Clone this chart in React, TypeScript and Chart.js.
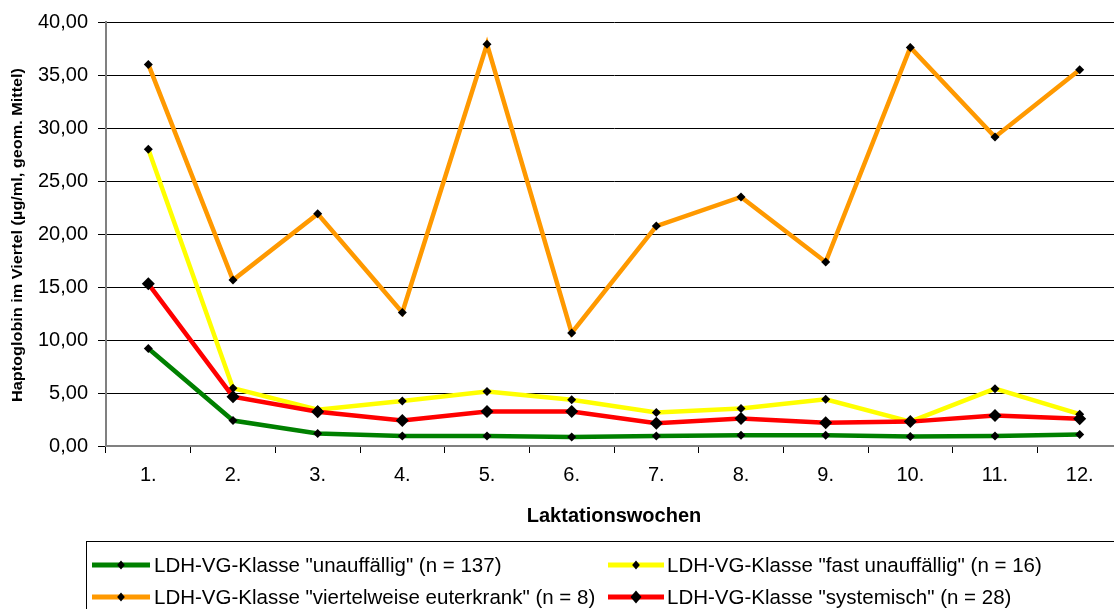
import React, { useEffect, useRef } from "react";
import { Chart, registerables } from "chart.js";

Chart.register(...registerables);

const weeks = ["1.", "2.", "3.", "4.", "5.", "6.", "7.", "8.", "9.", "10.", "11.", "12."];
const unauffaellig = [9.2, 2.4, 1.17, 0.95, 0.95, 0.84, 0.95, 1.01, 1.01, 0.89, 0.95, 1.08];
const fastUnauffaellig = [28.0, 5.45, 3.42, 4.24, 5.13, 4.37, 3.16, 3.54, 4.4, 2.3, 5.41, 3.0];
const viertelweise = [36.0, 15.66, 21.9, 12.6, 37.9, 10.66, 20.75, 23.5, 17.36, 37.6, 29.15, 35.5];
const systemisch = [15.3, 4.65, 3.23, 2.4, 3.26, 3.26, 2.15, 2.6, 2.2, 2.3, 2.88, 2.56];
const seriesLabels = [
  'LDH-VG-Klasse "unauffällig" (n = 137)',
  'LDH-VG-Klasse "fast unauffällig" (n = 16)',
  'LDH-VG-Klasse "viertelweise euterkrank" (n = 8)',
  'LDH-VG-Klasse "systemisch" (n = 28)',
];
const seriesColors = ["#008000", "#FFFF00", "#FF9900", "#FF0000"];
const yTitle = "Haptoglobin im Viertel (µg/ml, geom. Mittel)";
const xTitle = "Laktationswochen";

const FONT = "Arial, 'Liberation Sans', sans-serif";

const yTitlePlugin = {
  id: "yTitleStretched",
  afterDraw(chart: any) {
    const ctx = chart.ctx;
    ctx.save();
    ctx.font = "bold 14px " + FONT;
    const w = ctx.measureText(yTitle).width;
    ctx.translate(18, 235);
    ctx.rotate(-Math.PI / 2);
    ctx.scale(334 / w, 1);
    ctx.fillStyle = "#000";
    ctx.textAlign = "center";
    ctx.textBaseline = "middle";
    ctx.fillText(yTitle, 0, 0);
    ctx.restore();
  },
};

const boxLegend = {
  id: "boxLegend",
  afterDraw(chart: any) {
    const ctx = chart.ctx;
    ctx.save();
    ctx.strokeStyle = "#000";
    ctx.lineWidth = 1;
    ctx.strokeRect(86.5, 541.5, 1100, 90);
    const cols = [
      { line0: 92, line1: 150, mark: 121, text: 154 },
      { line0: 608, line1: 664, mark: 636, text: 667 },
    ];
    const rows = [565, 597];
    ctx.font = "20.5px " + FONT;
    ctx.textBaseline = "middle";
    ctx.textAlign = "left";
    chart.data.datasets.forEach((ds: any, i: number) => {
      const c = cols[i % 2];
      const y = rows[Math.floor(i / 2)];
      ctx.strokeStyle = ds.borderColor;
      ctx.lineWidth = 5;
      ctx.beginPath();
      ctx.moveTo(c.line0, y);
      ctx.lineTo(c.line1, y);
      ctx.stroke();
      const r = ds.pointRadius;
      ctx.fillStyle = "#000";
      ctx.beginPath();
      ctx.moveTo(c.mark, y - r);
      ctx.lineTo(c.mark + r * 0.85, y);
      ctx.lineTo(c.mark, y + r);
      ctx.lineTo(c.mark - r * 0.85, y);
      ctx.closePath();
      ctx.fill();
      ctx.fillStyle = "#000";
      ctx.fillText(ds.label, c.text, y + 1);
    });
    ctx.restore();
  },
};

export default function App() {
  const ref = useRef<HTMLCanvasElement>(null);
  useEffect(() => {
    document.body.style.margin = "0";
    document.body.style.overflow = "hidden";
    const values = [unauffaellig, fastUnauffaellig, viertelweise, systemisch];
    const orders = [3, 1, 2, 0];
    const radii = [4.5, 4.5, 4.5, 6.5];
    const chart = new Chart(ref.current!, {
      type: "line",
      data: {
        labels: weeks,
        datasets: values.map((v, i) => ({
          label: seriesLabels[i],
          data: v,
          borderColor: seriesColors[i],
          backgroundColor: seriesColors[i],
          borderWidth: 4.5,
          pointStyle: "rectRot",
          pointRadius: radii[i],
          pointBackgroundColor: "#000",
          pointBorderColor: "#000",
          pointBorderWidth: 0,
          tension: 0,
          order: orders[i],
        })),
      },
      options: {
        animation: false,
        responsive: true,
        maintainAspectRatio: false,
        layout: { padding: { left: 0, right: 8, top: 22, bottom: 68 } },
        plugins: {
          legend: { display: false },
          tooltip: { enabled: false },
        },
        scales: {
          x: {
            offset: true,
            grid: {
              offset: true,
              drawOnChartArea: false,
              drawTicks: true,
              tickLength: 7,
              color: "#000",
            },
            border: { color: "#808080", width: 2 },
            ticks: {
              color: "#000",
              font: { family: FONT, size: 20 },
              padding: 10,
              maxRotation: 0,
            },
            title: {
              display: true,
              text: xTitle,
              color: "#000",
              font: { family: FONT, size: 20, weight: "bold" },
              padding: { top: 0, bottom: 13 },
            },
            afterFit: (s: any) => {
              s.height = 95;
            },
          },
          y: {
            min: 0,
            max: 40,
            ticks: {
              stepSize: 5,
              color: "#000",
              font: { family: FONT, size: 20 },
              padding: 10,
              callback: (v: any) => Number(v).toFixed(2).replace(".", ","),
            },
            grid: {
              color: "#000",
              lineWidth: 1,
              tickLength: 8,
              drawTicks: true,
            },
            border: { color: "#808080", width: 2 },
            title: { display: false },
            afterFit: (s: any) => {
              s.width = 106;
            },
          },
        },
      },
      plugins: [boxLegend, yTitlePlugin],
    });
    return () => chart.destroy();
  }, []);
  return (
    <div style={{ position: "fixed", left: 0, top: 0, width: 1114, height: 609, overflow: "hidden", background: "#fff" }}>
      <div style={{ position: "absolute", left: 0, top: 0, width: 1130, height: 609 }}>
        <canvas ref={ref} />
      </div>
    </div>
  );
}
